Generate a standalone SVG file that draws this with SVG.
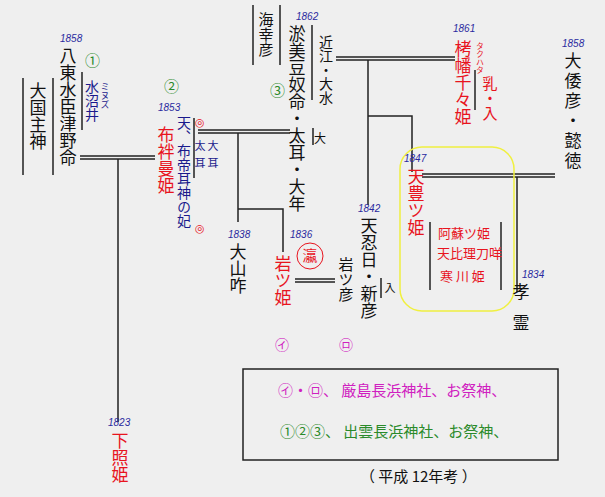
<svg xmlns="http://www.w3.org/2000/svg" width="605" height="497" viewBox="0 0 605 497">
<style>
.v{writing-mode:vertical-rl;font-family:"Noto Sans CJK JP",sans-serif;font-size:17px}
.k{fill:#111}.r{fill:#e8141e}.b{fill:#1a1a8c}.g{fill:#2a8a2a}.m{fill:#d020c0}
.y{font-family:"Liberation Sans",sans-serif;font-size:10px;font-style:italic;fill:#2a2aa0}
.l{stroke:#222;stroke-width:1.5;fill:none}
.h{font-family:"Noto Sans CJK JP",sans-serif;font-size:15px}
</style>
<rect width="605" height="497" fill="#efefef"/>
<g id="connectors">
<path class="l" d="M80 156H155M80 159H155M118 159V422"/>
<path class="l" d="M198 130H290M198 133H290M238 133V222M238 209H283V252"/>
<path class="l" d="M336 57H455M336 60H455M368 60V205M368 116H412V172"/>
<path class="l" d="M422 174H555M422 177H555M517 177V292"/>
<path class="l" d="M295 279H335M295 282H335"/>
<path class="l" d="M23 78V175M53 78V175M253 5V65M280 5V65M82 72V130M194 118V178M430 222V290M501 222V290M312 25V100M313 128V145M475 70V110M381 278V298"/>
</g>
<rect x="400" y="147" width="114" height="164" rx="22" fill="none" stroke="#f0f040" stroke-width="1.5"/>
<g id="n1"><text class="y" x="60" y="42">1858</text><text class="v k" x="68" y="47">八東水臣津野命</text></g>
<g id="n2"><text class="v k" x="38" y="82">大国主神</text></g>
<g id="n3"><text class="v b" x="92" y="80" style="font-size:14px">水沼井</text><text class="v b" x="105" y="82" style="font-size:9px">ミヌズ</text>
<text class="h g" x="85" y="66">①</text><text class="h g" x="164" y="92">②</text><text class="h g" x="270" y="96">③</text></g>
<g id="n4"><text class="y" x="158" y="111">1853</text><text class="v r" x="166" y="126">布袢曼姫</text></g>
<g id="n5"><text class="v b" x="184" y="116" style="font-size:14px">天、布帝耳神の妃</text><text class="r" x="195" y="126" style="font-size:11px;font-family:'DejaVu Sans'">◎</text><text class="r" x="195" y="232" style="font-size:11px;font-family:'DejaVu Sans'">◎</text>
<text class="v b" x="200" y="140" style="font-size:11px;letter-spacing:6px">太耳</text><text class="v b" x="213" y="140" style="font-size:11px;letter-spacing:6px">大耳</text></g>
<g id="n6"><text class="v k" x="266" y="12" style="font-size:15px">海幸彦</text></g>
<g id="n7"><text class="y" x="296" y="20">1862</text><text class="v k" x="297" y="25">淤美豆奴命・太耳・大年</text><text class="v k" x="326" y="35" style="font-size:14px">近江・大水</text><text class="v k" x="320" y="132" style="font-size:12px">大</text></g>
<g id="n8"><text class="y" x="228" y="238">1838</text><text class="v k" x="238" y="243">大山咋</text></g>
<g id="n9"><text class="y" x="290" y="238">1836</text><circle cx="310" cy="256" r="13" fill="none" stroke="#e8141e"/><text class="v r" x="310" y="248" style="font-size:15px">瀛</text><text class="v r" x="283" y="255">岩ツ姫</text></g>
<g id="n10"><text class="v k" x="346" y="257" style="font-size:15px">岩ツ彦</text></g>
<g id="n11"><text class="y" x="358" y="212">1842</text><text class="v k" x="369" y="217">天忍日・新彦</text><text class="v k" x="390" y="282" style="font-size:11px">入</text></g>
<g id="n12"><text class="y" x="453" y="32">1861</text><text class="v r" x="463" y="40">栲幡千々姫</text><text class="v r" x="480" y="42" style="font-size:8px">タクハタ</text><text class="v r" x="490" y="76" style="font-size:15px">乳・入</text></g>
<g id="n13"><text class="y" x="562" y="47">1858</text><text class="v k" x="573" y="52" style="letter-spacing:3px">大倭彦・懿徳</text></g>
<g id="n14"><text class="y" x="404" y="162">1847</text><text class="v r" x="416" y="168">天豊ツ姫</text>
<text class="r" x="438" y="238" style="font-family:'Noto Sans CJK JP';font-size:13px">阿蘇ツ姫</text><text class="r" x="437" y="258" style="font-family:'Noto Sans CJK JP';font-size:13px">天比理刀咩</text><text class="r" x="440" y="281" style="font-family:'Noto Sans CJK JP';font-size:13px">寒 川 姫</text></g>
<g id="n15"><text class="y" x="522" y="278">1834</text><text class="v k" x="521" y="283" style="letter-spacing:14px">孝霊</text></g>
<g id="n16"><text class="y" x="108" y="426">1823</text><text class="v r" x="120" y="432">下照姫</text></g>
<g id="n17"><text class="h m" x="275" y="350" style="font-size:14px">㋑</text><text class="h m" x="339" y="350" style="font-size:14px">㋺</text></g>
<rect x="243" y="369" width="315" height="91" fill="none" stroke="#222" stroke-width="1.5"/>
<text class="h m" x="278" y="396">㋑・㋺、 厳島長浜神社、お祭神、</text>
<text class="h g" x="280" y="437">①②③、 出雲長浜神社、お祭神、</text>
<text class="h k" x="360" y="482">（ 平成 12年考 ）</text>
</svg>
